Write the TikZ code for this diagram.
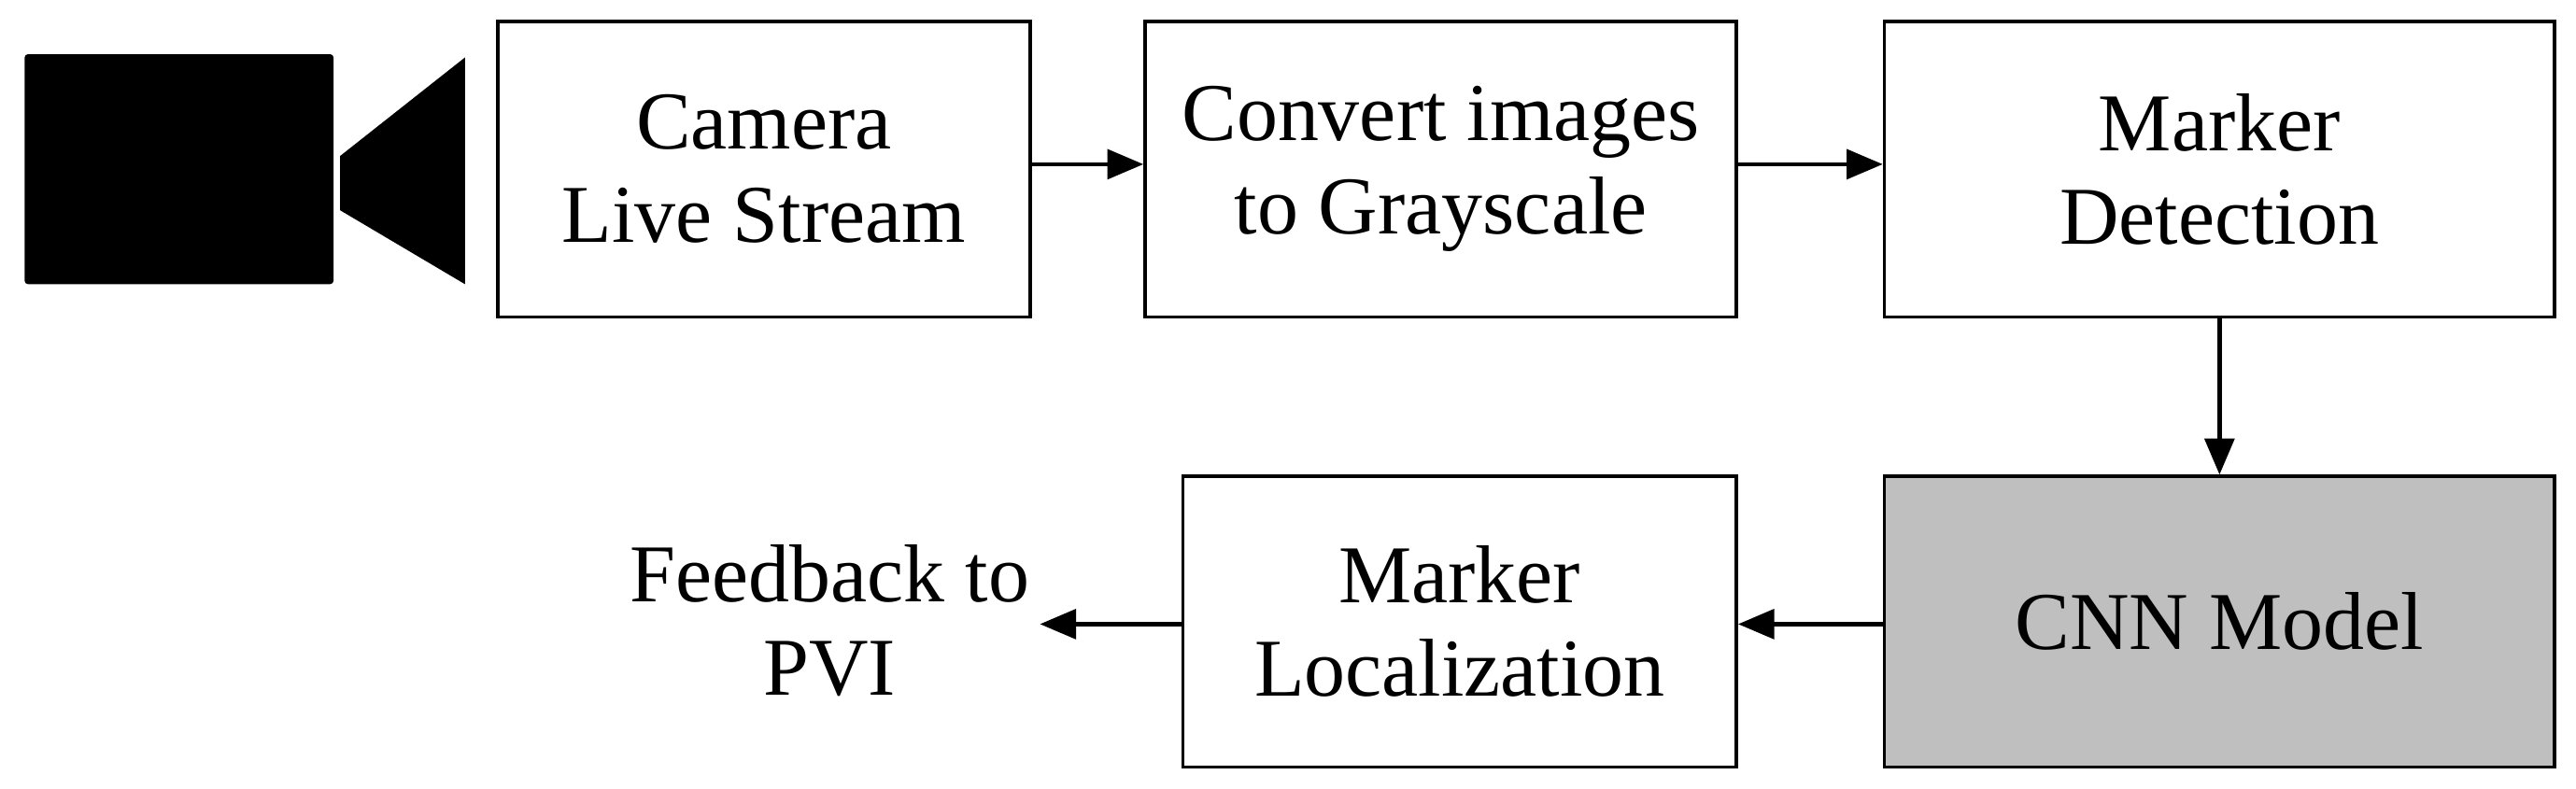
\documentclass[tikz,border=0pt]{standalone}
\usepackage{fontspec}
\usetikzlibrary{arrows.meta}
\setmainfont{Liberation Serif}
\begin{document}
\begin{tikzpicture}[x=1pt,y=-1pt,
  box/.style={draw,line width=2pt,minimum width=#1,align=center,font=\fontsize{50}{57}\selectfont,inner sep=0pt},
  arr/.style={-{Triangle[length=22pt,width=18pt]},line width=2.5pt}]
\useasboundingbox (0,0) rectangle (1568,480);
\fill[black,rounded corners=2pt] (15,33) rectangle (203,173);
\fill[black] (207,95) -- (283,35) -- (283,173) -- (207,128) -- cycle;
\node[box=324pt,minimum height=180pt] (b1) at (465,103) {Camera\\Live Stream};
\node[box=360pt,minimum height=180pt] (b2) at (877,103) {Convert images\\to Grayscale};
\node[box=408pt,minimum height=180pt] (b3) at (1351,103) {Marker\\Detection};
\node[box=408pt,minimum height=177pt,fill=black!25] (b4) at (1351,378.5) {CNN Model};
\node[box=337pt,minimum height=177pt] (b5) at (888.5,378.5) {Marker\\Localization};
\node[align=center,font=\fontsize{50}{57}\selectfont] (fb) at (505,378) {Feedback to\\PVI};
\coordinate (fe) at (633,380);
\draw[arr] (b1.east|-0,100) -- (b2.west|-0,100);
\draw[arr] (b2.east|-0,100) -- (b3.west|-0,100);
\draw[arr] (b3.south) -- (b4.north);
\draw[arr] (b4.west|-0,380) -- (b5.east|-0,380);
\draw[arr] (b5.west|-0,380) -- (fe);
\end{tikzpicture}
\end{document}
